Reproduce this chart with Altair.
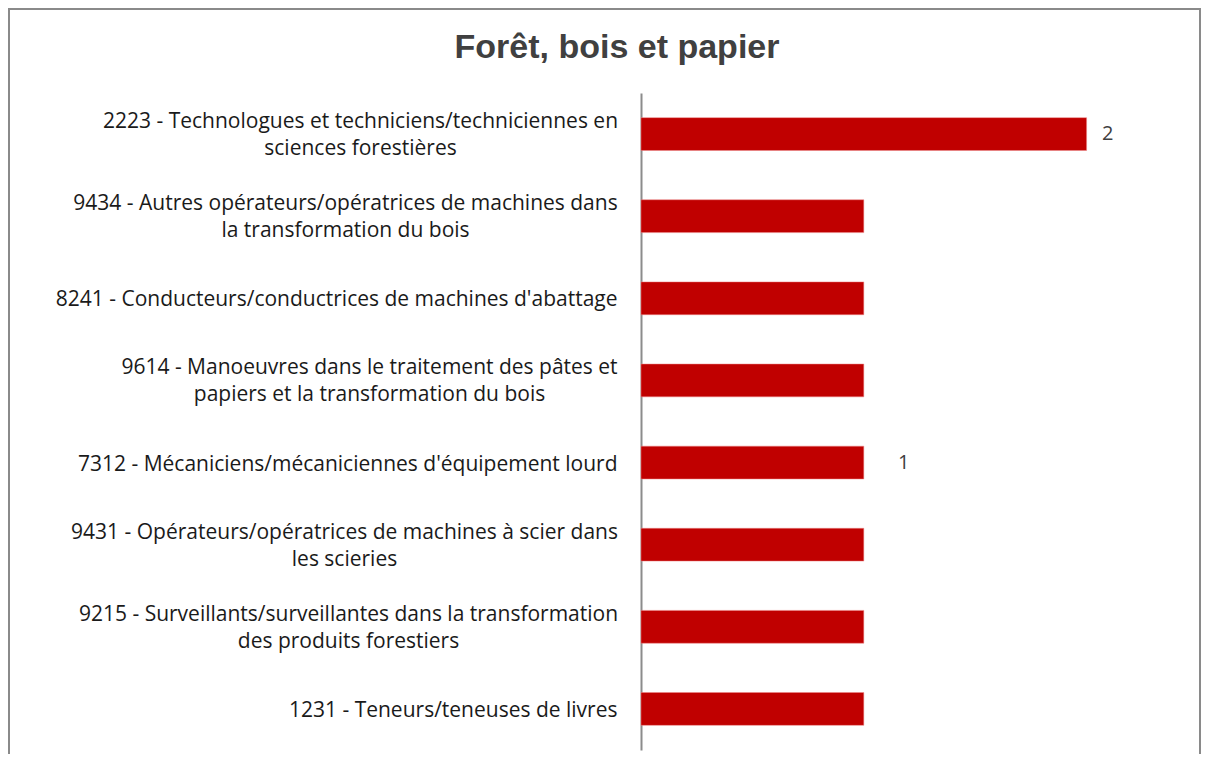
import altair as alt
import pandas as pd

title_text = "Forêt, bois et papier"
categories = [
    "2223 - Technologues et techniciens/techniciennes en\nsciences forestières",
    "9434 - Autres opérateurs/opératrices de machines dans\nla transformation du bois",
    "8241 - Conducteurs/conductrices de machines d'abattage",
    "9614 - Manoeuvres dans le traitement des pâtes et\npapiers et la transformation du bois",
    "7312 - Mécaniciens/mécaniciennes d'équipement lourd",
    "9431 - Opérateurs/opératrices de machines à scier dans\nles scieries",
    "9215 - Surveillants/surveillantes dans la transformation\ndes produits forestiers",
    "1231 - Teneurs/teneuses de livres",
]
values = [2, 1, 1, 1, 1, 1, 1, 1]
value_labels = ["2", "", "", "", "1", "", "", ""]

df = pd.DataFrame({"cat": categories, "val": values, "lab": value_labels})

RED = "#C00000"
LABEL_FONT = "Open Sans"
GAP = 24
# label styling: two-line labels are centred line by line (padding = gap + half first-line width)
centre_pad = {"2223": 281, "9434": 296, "9614": 272, "9431": 297, "9215": 293}

pad_conditions = [
    {"test": f"indexof(datum.value, '{code}') == 0", "value": p}
    for code, p in centre_pad.items()
]
two_line_test = " || ".join(f"indexof(datum.value, '{code}') == 0" for code in centre_pad)

y_enc = alt.Y(
    "cat:N",
    sort=None,
    title=None,
    scale=alt.Scale(paddingInner=0.6, paddingOuter=0.3),
    axis=alt.Axis(
        ticks=False,
        domainColor="#8c8c8c",
        domainWidth=2,
        labelFont=LABEL_FONT,
        labelFontSize=21,
        labelColor="#1a1a1a",
        labelPadding={"condition": pad_conditions, "value": GAP},
        labelAlign={"condition": {"test": two_line_test, "value": "center"}, "value": "right"},
        labelOffset={"condition": {"test": two_line_test, "value": -12}, "value": 2},
        labelLimit=700,
        labelLineHeight=27,
        labelExpr="split(datum.value, '\\n')",
    ),
)
x_enc = alt.X("val:Q", axis=None, scale=alt.Scale(domain=[0, 2.5]))

base = alt.Chart(df)

bars = base.mark_bar(color=RED, stroke="#e88", strokeWidth=0.5).encode(x=x_enc, y=y_enc)

lab2 = base.transform_filter("datum.lab == '2'").mark_text(
    align="center", baseline="middle", dx=21, font=LABEL_FONT, fontSize=20, color="#404040"
).encode(x=x_enc, y=y_enc, text="lab:N")
lab1 = base.transform_filter("datum.lab == '1'").mark_text(
    align="center", baseline="middle", dx=40, font=LABEL_FONT, fontSize=20, color="#404040"
).encode(x=x_enc, y=y_enc, text="lab:N")

one = alt.Chart(pd.DataFrame({"t": [title_text]}))

frame = one.mark_rect(
    fill=None, fillOpacity=0, stroke="#8a8a8a", strokeWidth=2
).encode(
    x=alt.value(-632), x2=alt.value(559), y=alt.value(-84), y2=alt.value(800)
)

title = one.mark_text(
    align="center", baseline="alphabetic", font="Liberation Sans", fontSize=34,
    fontWeight="bold", color="#404040"
).encode(x=alt.value(-24), y=alt.value(-35), text="t:N")

chart = alt.layer(frame, title, bars, lab2, lab1).properties(
    width=557,
    height=657,
    autosize=alt.AutoSizeParams(type="none"),
    padding={"left": 633, "top": 85, "right": 3, "bottom": 4},
).configure_view(stroke=None)

chart.save("out.html", embed_options={"renderer": "svg", "actions": False})
